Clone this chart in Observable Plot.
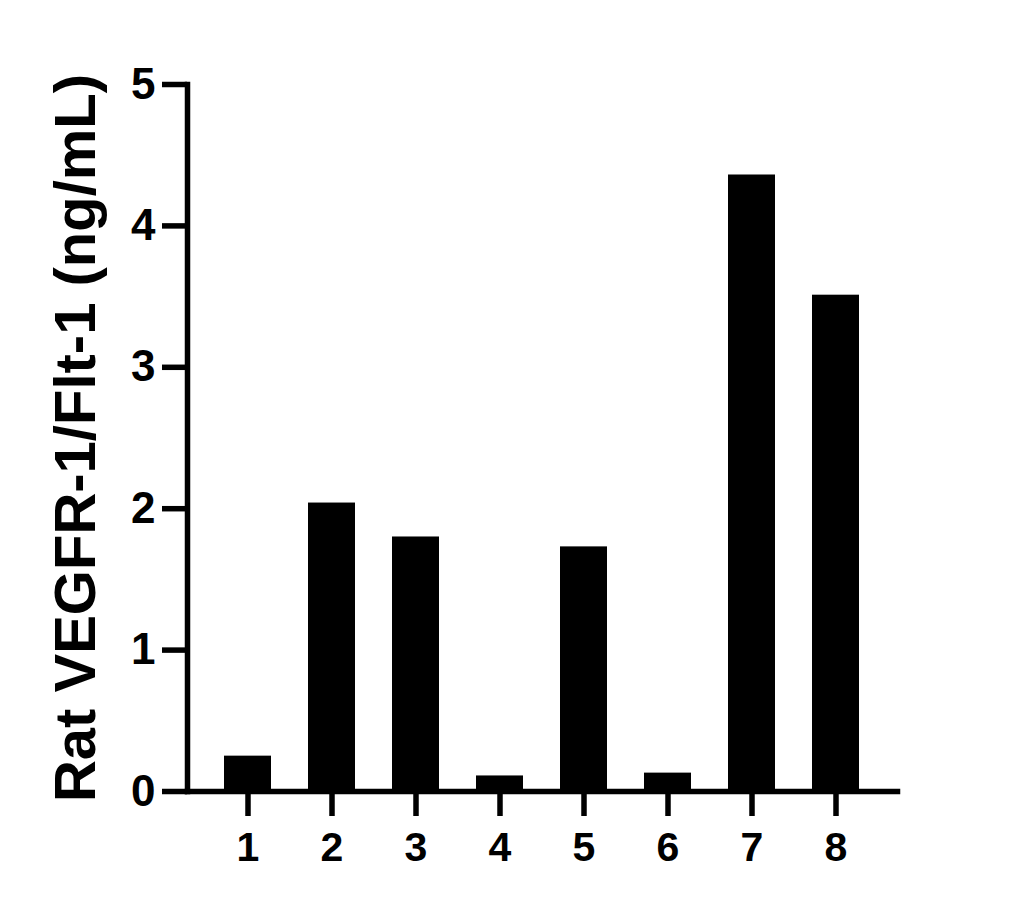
<!DOCTYPE html>
<html>
<head>
<meta charset="utf-8">
<script src="https://cdn.jsdelivr.net/npm/d3@7"></script>
<script src="https://cdn.jsdelivr.net/npm/@observablehq/plot@0.6"></script>
<style>
  html, body { margin: 0; padding: 0; background: #fff; }
  #chart svg { display: block; }
</style>
</head>
<body>
<div id="chart"></div>
<script>
const samples = ["1", "2", "3", "4", "5", "6", "7", "8"];
const values = [0.25, 2.04, 1.80, 0.11, 1.73, 0.13, 4.36, 3.51];
const yTicks = [0, 1, 2, 3, 4, 5];
const yLabel = "Rat VEGFR-1/Flt-1 (ng/mL)";

const data = samples.map((s, i) => ({sample: s, value: values[i]}));

const chart = Plot.plot({
  width: 1029,
  height: 909,
  marginLeft: 187,
  marginRight: 132,
  marginTop: 84,
  marginBottom: 118,
  style: {fontFamily: "'Liberation Sans', Arial, sans-serif", fontWeight: "bold", color: "#000", background: "#fff"},
  x: {domain: samples, padding: 0.44},
  y: {domain: [0, 5]},
  marks: [
    Plot.barY(data, {x: "sample", y: "value", fill: "#000"}),
    Plot.axisX({tickSize: 25, tickPadding: 15, strokeWidth: 5.5, fontSize: 41, label: null}),
    Plot.axisY({ticks: yTicks, tickSize: 25, tickPadding: 7, strokeWidth: 5.5, fontSize: 44, label: null, tickFormat: d3.format("d")}),
    Plot.frame({anchor: "left", strokeWidth: 5.5, strokeLinecap: "square"}),
    Plot.frame({anchor: "bottom", strokeWidth: 5.5}),
    Plot.text([yLabel], {frameAnchor: "left", textAnchor: "middle", rotate: -90, dx: -111, fontSize: 58, fontWeight: "bold", fill: "#000"})
  ]
});
document.getElementById("chart").appendChild(chart);
</script>
</body>
</html>
